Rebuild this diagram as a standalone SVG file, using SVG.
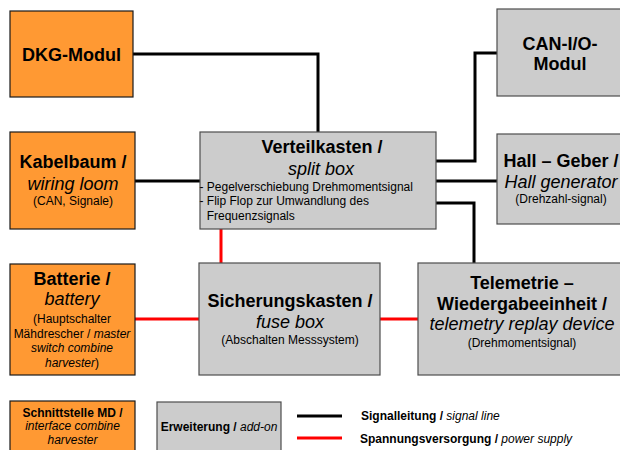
<svg xmlns="http://www.w3.org/2000/svg" width="620" height="450" viewBox="0 0 620 450">
<style>
text{font-family:"Liberation Sans",Arial,sans-serif;fill:#000}
.o{fill:#FF9933;stroke:#1a1a1a;stroke-width:1.2}
.g{fill:#CCCCCC;stroke:#4d4d4d;stroke-width:1.2}
.t{font-size:18px;font-weight:bold;text-anchor:middle}
.i{font-size:18px;font-style:italic;text-anchor:middle}
.s{font-size:12px;text-anchor:middle}
.l{font-size:12px}
.sig{fill:none;stroke:#000;stroke-width:3}
.pow{fill:none;stroke:#FF0000;stroke-width:3}
</style>
<rect width="620" height="450" fill="#fff"/>
<g id="connectors">
<path class="sig" d="M133,54 H318 V132"/>
<path class="sig" d="M135,181 H200"/>
<path class="sig" d="M436,161 H475 V53 H497"/>
<path class="sig" d="M436,181 H497"/>
<path class="sig" d="M436,203 H474 V263"/>
<path class="pow" d="M221,229 V264"/>
<path class="pow" d="M135,319 H199"/>
<path class="pow" d="M380,319 H418"/>
</g>
<g id="dkg">
<rect class="o" x="10" y="11" width="123" height="86"/>
<text class="t" x="71.5" y="60.5">DKG-Modul</text>
</g>
<g id="kabelbaum">
<rect class="o" x="10" y="132" width="125" height="97"/>
<text class="t" x="73" y="167.5">Kabelbaum /</text>
<text class="i" x="73" y="190">wiring loom</text>
<text class="s" x="73" y="205">(CAN, Signale)</text>
</g>
<g id="batterie">
<rect class="o" x="10" y="264" width="125" height="111"/>
<text class="t" x="72" y="285">Batterie /</text>
<text class="i" x="72" y="305">battery</text>
<text class="s" x="72" y="323">(Hauptschalter</text>
<text class="s" x="72" y="337.5">Mähdrescher / <tspan font-style="italic">master</tspan></text>
<text class="s" x="72" y="352" font-style="italic">switch combine</text>
<text class="s" x="72" y="367"><tspan font-style="italic">harvester</tspan>)</text>
</g>
<g id="verteilkasten">
<rect class="g" x="200" y="132" width="236" height="97"/>
<text class="t" x="322" y="153">Verteilkasten /</text>
<text class="i" x="321" y="175">split box</text>
<text class="l" x="199.5" y="190.5">- Pegelverschiebung Drehmomentsignal</text>
<text class="l" x="199.5" y="205">- Flip Flop zur Umwandlung des</text>
<text class="l" x="206.7" y="219.5">Frequenzsignals</text>
</g>
<g id="sicherungskasten">
<rect class="g" x="199" y="263" width="181" height="112"/>
<text class="t" x="290" y="306.5">Sicherungskasten /</text>
<text class="i" x="290" y="328">fuse box</text>
<text class="s" x="290" y="344">(Abschalten Messsystem)</text>
</g>
<g id="can">
<rect class="g" x="497" y="9" width="126" height="87"/>
<text class="t" x="560" y="49.5">CAN-I/O-</text>
<text class="t" x="560" y="70">Modul</text>
</g>
<g id="hall">
<rect class="g" x="497" y="134" width="126" height="90"/>
<text class="t" x="561" y="166.5">Hall – Geber /</text>
<text class="i" x="561" y="188">Hall generator</text>
<text class="s" x="561" y="203">(Drehzahl-signal)</text>
</g>
<g id="telemetrie">
<rect class="g" x="418" y="263" width="208" height="112"/>
<text class="t" x="522" y="289">Telemetrie –</text>
<text class="t" x="522" y="309.5">Wiedergabeeinheit /</text>
<text class="i" x="522" y="330">telemetry replay device</text>
<text class="s" x="522" y="346.5">(Drehmomentsignal)</text>
</g>
<g id="legend-interface">
<rect class="o" x="10" y="401" width="125" height="55"/>
<text class="s" x="72.5" y="416.5" font-weight="bold">Schnittstelle MD /</text>
<text class="s" x="72.5" y="430" font-style="italic">interface combine</text>
<text class="s" x="72.5" y="444" font-style="italic">harvester</text>
</g>
<g id="legend-addon">
<rect class="g" x="157" y="402" width="124" height="54"/>
<text class="s" x="219" y="430.5"><tspan font-weight="bold">Erweiterung /</tspan> <tspan font-style="italic">add-on</tspan></text>
</g>
<g id="legend-lines">
<line class="sig" x1="297" y1="416" x2="342" y2="416"/>
<line class="pow" x1="297" y1="438" x2="342" y2="438"/>
<text class="l" x="361" y="420"><tspan font-weight="bold">Signalleitung /</tspan> <tspan font-style="italic">signal line</tspan></text>
<text class="l" x="360" y="442.5"><tspan font-weight="bold">Spannungsversorgung /</tspan> <tspan font-style="italic">power supply</tspan></text>
</g>
</svg>
